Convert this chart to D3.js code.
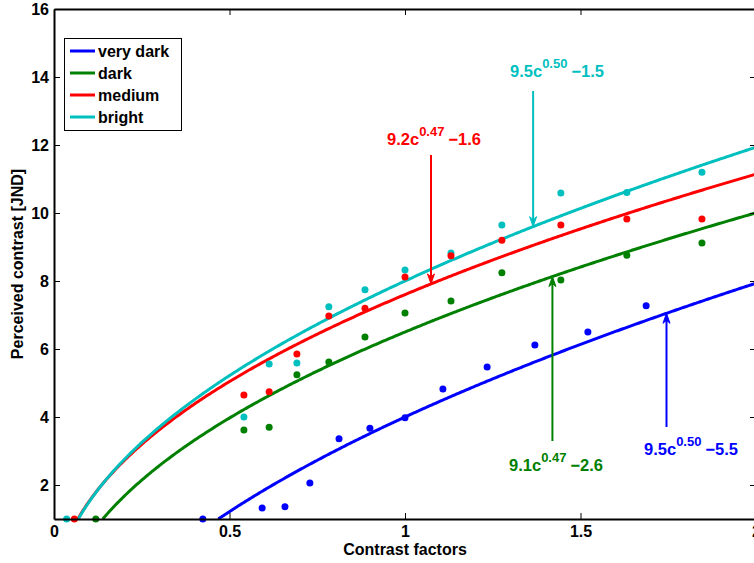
<!DOCTYPE html>
<html><head><meta charset="utf-8">
<script src="https://cdn.jsdelivr.net/npm/d3@7"></script>
<style>
body{margin:0;background:#fff;}
text{font-family:"Liberation Sans",Arial,sans-serif;font-weight:bold;}
</style></head>
<body>
<svg id="chart" width="754" height="563"></svg>
<script>
// ---- data ----
const seriesNames = ["very dark", "dark", "medium", "bright"];
const seriesColors = ["#0000ff", "#008000", "#ff0000", "#00bfbf"];
// fit parameters: a * c^b + k
const fitA = [9.5, 9.1, 9.2, 9.5];
const fitB = [0.50, 0.47, 0.47, 0.50];
const fitK = [-5.5, -2.6, -1.6, -1.5];
const fitLabelMain = ["9.5c", "9.1c", "9.2c", "9.5c"];
const fitLabelExp = ["0.50", "0.47", "0.47", "0.50"];
const fitLabelTail = ["\u22125.5", "\u22122.6", "\u22121.6", "\u22121.5"];
const arrowC = [1.745, 1.42, 1.074, 1.365];

const veryDarkX = [0.424, 0.593, 0.658, 0.729, 0.812, 0.900, 1.000, 1.108, 1.234, 1.370, 1.521, 1.687];
const veryDarkY = [1.00, 1.32, 1.36, 2.06, 3.36, 3.67, 3.98, 4.82, 5.47, 6.12, 6.50, 7.27];
const commonX = [0.541, 0.613, 0.692, 0.783, 0.886, 1.000, 1.131, 1.276, 1.444, 1.632, 1.846];
const darkX = [0.119].concat(commonX);
const darkY = [1.00, 3.62, 3.70, 5.24, 5.62, 6.35, 7.06, 7.41, 8.24, 8.03, 8.76, 9.12];
const mediumX = [0.058].concat(commonX);
const mediumY = [1.00, 4.65, 4.74, 5.85, 6.97, 7.20, 8.12, 8.74, 9.20, 9.65, 9.82, 9.82];
const brightX = [0.036].concat(commonX);
const brightY = [1.00, 4.00, 5.56, 5.59, 7.24, 7.74, 8.32, 8.82, 9.65, 10.59, 10.60, 11.20];

const xTicks = [0, 0.5, 1, 1.5, 2];
const yTicks = [2, 4, 6, 8, 10, 12, 14, 16];

const seriesX = [veryDarkX, darkX, mediumX, brightX];
const seriesY = [veryDarkY, darkY, mediumY, brightY];

// ---- layout ----
const svg = d3.select("#chart");
const L = 54, R = 756, T = 9, B = 519;
const x = d3.scaleLinear().domain([0, 2]).range([L, R]);
const y = d3.scaleLinear().domain([1, 16]).range([B, T]);

svg.append("defs").append("clipPath").attr("id", "clip")
  .append("rect").attr("x", L).attr("y", T).attr("width", R - L).attr("height", B - T);

const fit = i => c => fitA[i] * Math.pow(c, fitB[i]) + fitK[i];

// curves
const plot = svg.append("g").attr("clip-path", "url(#clip)");
const line = d3.line().x(d => x(d[0])).y(d => y(d[1]));
seriesNames.forEach((n, i) => {
  const f = fit(i);
  // start where curve reaches bottom of axis (value 1)
  const c0 = Math.pow((1 - fitK[i]) / fitA[i], 1 / fitB[i]);
  const pts = d3.range(0, 401).map(j => {
    const c = c0 + (2 - c0) * j / 400;
    return [c, f(c)];
  });
  plot.append("path").datum(pts).attr("d", line)
    .attr("fill", "none").attr("stroke", seriesColors[i]).attr("stroke-width", 3);
});

// dots
const dotG = svg.append("g");
[3, 2, 1, 0].forEach(i => {
  seriesX[i].forEach((cx, j) => {
    dotG.append("circle").attr("cx", x(cx)).attr("cy", y(seriesY[i][j]))
      .attr("r", 3.5).attr("fill", seriesColors[i]);
  });
});

// axes
const fmt = d => d3.format("~g")(d);
const axB = svg.append("g").attr("transform", `translate(0,${B})`)
  .call(d3.axisBottom(x).tickValues(xTicks).tickFormat(fmt).tickSizeInner(-6).tickSizeOuter(0).tickPadding(7));
const axL = svg.append("g").attr("transform", `translate(${L},0)`)
  .call(d3.axisLeft(y).tickValues(yTicks).tickSizeInner(-6).tickSizeOuter(0).tickPadding(5));
const axT = svg.append("g").attr("transform", `translate(0,${T})`)
  .call(d3.axisTop(x).tickValues(xTicks).tickFormat("").tickSizeInner(-6).tickSizeOuter(0));
const axR = svg.append("g").attr("transform", `translate(${R},0)`)
  .call(d3.axisRight(y).tickValues(yTicks).tickFormat("").tickSizeInner(-6).tickSizeOuter(0));
[axB, axL, axT, axR].forEach(a => {
  a.select(".domain").attr("stroke", "#000").attr("stroke-width", 2);
  a.selectAll(".tick line").attr("stroke", "#000").attr("stroke-width", 1);
  a.selectAll("text").attr("font-size", 16).attr("fill", "#000")
    .attr("font-family", "'Liberation Sans',Arial,sans-serif").attr("font-weight", "bold");
});

// axis labels
svg.append("text").attr("x", (L + R) / 2).attr("y", 555).attr("text-anchor", "middle")
  .attr("font-size", 16).text("Contrast factors");
svg.append("text").attr("transform", `translate(23,${(T + B) / 2}) rotate(-90)`)
  .attr("text-anchor", "middle").attr("font-size", 16).text("Perceived contrast [JND]");

// legend
const lg = svg.append("g");
lg.append("rect").attr("x", 64.5).attr("y", 38.5).attr("width", 117).attr("height", 92)
  .attr("fill", "#fff").attr("stroke", "#000").attr("stroke-width", 1);
seriesNames.forEach((n, i) => {
  const yy = 51 + i * 22;
  lg.append("line").attr("x1", 70).attr("x2", 95).attr("y1", yy).attr("y2", yy)
    .attr("stroke", seriesColors[i]).attr("stroke-width", 3);
  lg.append("text").attr("x", 98).attr("y", yy + 6).attr("font-size", 16).text(n);
});

// annotations
const labelPos = [[644, 455], [509, 471], [387, 145], [510, 77]];
const arrowStart = [427, 441, 155, 91];
seriesNames.forEach((n, i) => {
  const col = seriesColors[i];
  const t = svg.append("text").attr("x", labelPos[i][0]).attr("y", labelPos[i][1])
    .attr("fill", col).attr("font-size", 16.5);
  t.append("tspan").text(fitLabelMain[i]);
  t.append("tspan").attr("dy", -9).attr("font-size", 13).text(fitLabelExp[i]);
  t.append("tspan").attr("dy", 9).attr("dx", 4).text(fitLabelTail[i]);

  const ax = x(arrowC[i]);
  const tipY = y(fit(i)(arrowC[i]));
  const y0 = arrowStart[i];
  const dir = tipY > y0 ? 1 : -1;
  svg.append("line").attr("x1", ax).attr("x2", ax).attr("y1", y0).attr("y2", tipY - dir * 4)
    .attr("stroke", col).attr("stroke-width", 2);
  svg.append("path")
    .attr("d", `M${ax},${tipY} L${ax - 3.5},${tipY - dir * 10} L${ax},${tipY - dir * 7} L${ax + 3.5},${tipY - dir * 10} Z`)
    .attr("fill", col).attr("stroke", col).attr("stroke-width", 1);
});
</script>
</body></html>
